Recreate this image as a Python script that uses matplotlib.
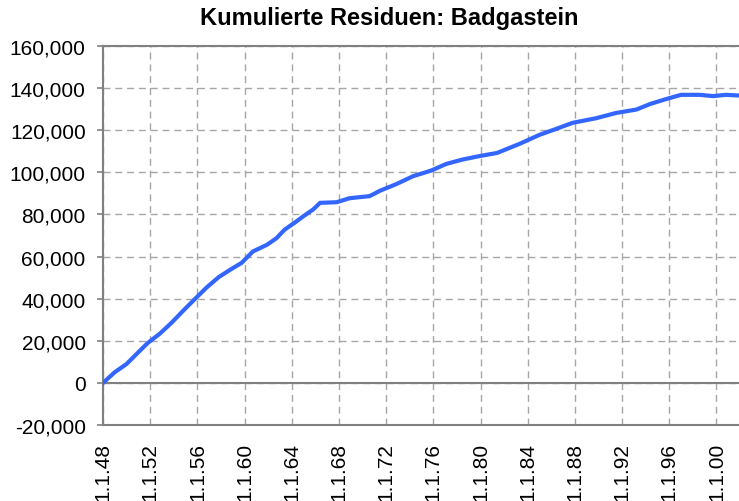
import numpy as np
import matplotlib
matplotlib.use('Agg')
import matplotlib.pyplot as plt
from matplotlib.ticker import FuncFormatter

#####################  data  ####################
# decimal year and cumulated residual
years = [1948.0, 1949.0, 1950.0, 1951.0, 1951.8, 1952.8, 1953.8, 1954.8, 1955.8,
         1956.8, 1957.8, 1958.8, 1959.75, 1960.7, 1961.9, 1962.7, 1963.4, 1964.3,
         1965.0, 1965.8, 1966.4, 1967.8, 1968.9, 1970.6, 1971.5, 1972.9, 1974.3,
         1975.8, 1977.1, 1978.5, 1979.9, 1981.4, 1983.3, 1985.0, 1986.4, 1987.8,
         1989.8, 1991.5, 1993.2, 1994.4, 1995.8, 1997.0, 1998.6, 1999.7, 2000.8,
         2001.8, 2002.5]
residuals = [0, 5100, 9000, 14600, 19000, 23300, 28500, 34300, 39900,
             45400, 50200, 53800, 57000, 62400, 65600, 68700, 72800, 76300,
             79200, 82300, 85500, 85800, 87700, 88700, 91300, 94500, 98200,
             100800, 104000, 106100, 107700, 109200, 113500, 117800, 120600, 123500,
             125700, 128200, 129800, 132500, 134900, 136800, 136800, 136200, 136800,
             136500, 136700]

tick_years = list(range(1948, 2001, 4))
tick_labels = ['1.1.%02d' % (y % 100) for y in tick_years]
y_ticks = list(range(-20000, 160001, 20000))

title = 'Kumulierte Residuen: Badgastein'

#####################  plot  ####################
plt.rcParams['font.family'] = ['Liberation Sans', 'DejaVu Sans']

fig = plt.figure(figsize=(7.39, 5.02), dpi=100)
# plot area runs past the right edge of the picture
ax = fig.add_axes([0.1394, 0.1514, 0.878, 0.755])

ax.plot(years, residuals, color='#3366ff', lw=3.0, solid_joinstyle='round', zorder=3)

ax.set_xlim(1948, 2003)
ax.set_ylim(-20000, 160000)

ax.set_xticks(tick_years)
ax.set_xticklabels(tick_labels, rotation=90, fontsize=15)
ax.set_yticks(y_ticks)
ax.yaxis.set_major_formatter(FuncFormatter(lambda v, p: '{:,.0f}'.format(v)))
ax.tick_params(axis='y', labelsize=15, length=4.5, width=1.2, color='#808080', pad=8)
ax.tick_params(axis='x', length=0, pad=12)

ax.grid(True, color='#a6a6a6', lw=1.0, linestyle=(0, (5, 3.5)))
ax.set_axisbelow(True)
ax.axhline(0, color='#808080', lw=1.5, zorder=2)

for side in ['left', 'bottom', 'top']:
    ax.spines[side].set_color('#808080')
    ax.spines[side].set_linewidth(1.5)
ax.spines['right'].set_visible(False)

fig.text(0.527, 0.963, title, ha='center', va='center', fontsize=17, fontweight='bold')

fig.savefig('out.png', dpi=100)
